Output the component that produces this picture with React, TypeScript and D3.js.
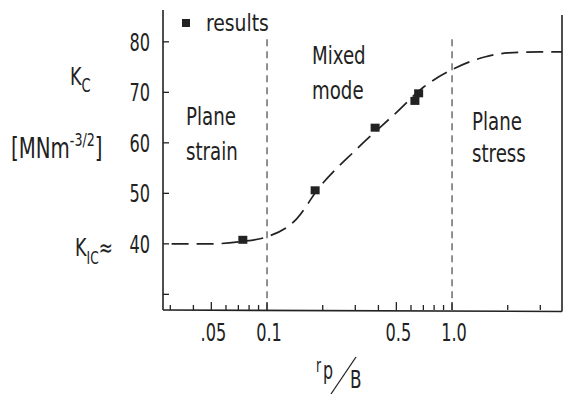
import React from "react";
import * as d3 from "d3";

// K_c versus r_p/B (fracture toughness transition)
const curveRp = [0.0305, 0.05, 0.07, 0.1, 0.145, 0.19, 0.3, 0.5, 0.7, 1.0, 1.5, 2.0, 3.0, 3.93];
const curveKc = [40, 40, 40.4, 41.4, 45, 51, 58.5, 66, 71, 74.5, 77, 77.8, 78, 78];

const resultRp = [0.074, 0.182, 0.384, 0.63, 0.66];
const resultKc = [40.8, 50.6, 63, 68.3, 69.8];

const yTicks = [30, 40, 50, 60, 70, 80];
const yLabels = ["", "40", "50", "60", "70", "80"];
const xMajor = [0.05, 0.1, 0.5, 1.0];
const xLabels = [".05", "0.1", "0.5", "1.0"];
const xMinor = [0.03, 0.04, 0.06, 0.07, 0.08, 0.09, 0.2, 0.3, 0.4, 0.6, 0.7, 0.8, 0.9, 2, 3];
const regionLines = [0.1, 1.0];

const ink = "#222";
const font = "'DejaVu Sans Condensed', 'Liberation Sans Narrow', sans-serif";

// narrow, tall lettering like the original stencil font
const Narrow = ({ x, y, size, anchor = "start", sx = 0.8, sy = 1.1, children }: any) => (
  <text transform={`translate(${x},${y}) scale(${sx},${sy})`} fontSize={size} textAnchor={anchor}>
    {children}
  </text>
);

const App = () => {
  const width = 563;
  const height = 397;
  const left = 163;
  const right = 562;
  const top = 10;
  const bottom = 310;

  const x = d3.scaleLog().domain([0.0274, 3.93]).range([left, right]);
  const y = d3.scaleLinear().domain([26.9, 86.3]).range([bottom, top]);

  const line = d3
    .line<number>()
    .x((d) => x(d))
    .y((d, i) => y(curveKc[i]))
    .curve(d3.curveMonotoneX);

  return (
    <svg
      width={width}
      height={height}
      style={{ position: "absolute", left: 0, top: 0, background: "#fff" }}
      fontFamily={font}
      fill={ink}
    >
      {/* axes */}
      <line x1={left} y1={top} x2={left} y2={bottom} stroke={ink} strokeWidth={1.6} />
      <line x1={left} y1={bottom} x2={right} y2={bottom + 1.5} stroke={ink} strokeWidth={1.6} />
      <line x1={right} y1={15} x2={right} y2={bottom + 1.5} stroke={ink} strokeWidth={1.6} />

      {/* y ticks */}
      {yTicks.map((t, i) => (
        <g key={"yt" + t}>
          <line x1={left} x2={left + 6} y1={y(t)} y2={y(t)} stroke={ink} strokeWidth={1.3} />
          {yLabels[i] && (
            <Narrow x={150} y={y(t) + 9} size={23} anchor="end" sx={0.78} sy={1.1}>
              {yLabels[i]}
            </Narrow>
          )}
        </g>
      ))}

      {/* x ticks */}
      {xMinor.map((t) => (
        <line key={"xm" + t} x1={x(t)} x2={x(t)} y1={bottom} y2={bottom - 5} stroke={ink} strokeWidth={1.3} />
      ))}
      {xMajor.map((t, i) => (
        <g key={"xM" + t}>
          <line x1={x(t)} x2={x(t)} y1={bottom} y2={bottom - 8} stroke={ink} strokeWidth={1.3} />
          <Narrow x={x(t) + 2} y={341} size={23} anchor="middle" sx={0.78} sy={1.1}>
            {xLabels[i]}
          </Narrow>
        </g>
      ))}

      {/* region boundaries */}
      {regionLines.map((t) => (
        <line
          key={"rl" + t}
          x1={x(t)}
          x2={x(t)}
          y1={y(80.5)}
          y2={bottom}
          stroke={ink}
          strokeWidth={1}
          strokeDasharray="7 5"
        />
      ))}

      {/* fitted curve */}
      <path d={line(curveRp) || ""} fill="none" stroke={ink} strokeWidth={1.7} strokeDasharray="17 8" />

      {/* results */}
      {resultRp.map((r, i) => (
        <rect key={"pt" + i} x={x(r) - 4.5} y={y(resultKc[i]) - 4} width={9} height={8} fill={ink} />
      ))}

      {/* legend */}
      <rect x={182} y={19} width={8} height={8} fill={ink} />
      <Narrow x={206} y={31} size={22} sx={0.95} sy={1.08}>results</Narrow>

      {/* region labels */}
      <Narrow x={186} y={125} size={22} sx={0.92} sy={1.1}>Plane</Narrow>
      <Narrow x={186} y={160} size={22} sx={0.92} sy={1.1}>strain</Narrow>
      <Narrow x={312} y={64} size={22} sx={0.92} sy={1.1}>Mixed</Narrow>
      <Narrow x={312} y={99} size={22} sx={0.92} sy={1.1}>mode</Narrow>
      <Narrow x={472} y={130} size={22} sx={0.92} sy={1.1}>Plane</Narrow>
      <Narrow x={472} y={162} size={22} sx={0.92} sy={1.1}>stress</Narrow>

      {/* y axis title */}
      <Narrow x={70} y={85} size={23} sx={0.85} sy={1.1}>
        K<tspan fontSize={17} dy={6}>C</tspan>
      </Narrow>
      <Narrow x={11} y={158} size={25} sx={0.88} sy={1.12}>
        [MNm<tspan fontSize={16} dy={-11}>-3/2</tspan>
        <tspan fontSize={25} dy={11}>]</tspan>
      </Narrow>
      <Narrow x={75} y={256} size={23} sx={0.85} sy={1.1}>
        K<tspan fontSize={16} dy={7}>IC</tspan>
        <tspan dy={-7} fontSize={22}>≈</tspan>
      </Narrow>

      {/* x axis title */}
      <Narrow x={316} y={372} size={17}>r</Narrow>
      <Narrow x={323} y={379} size={22}>p</Narrow>
      <line x1={331} y1={394} x2={356} y2={357} stroke={ink} strokeWidth={1.3} />
      <Narrow x={350} y={388} size={22} sx={0.85} sy={1.1}>B</Narrow>
    </svg>
  );
};

export default App;
